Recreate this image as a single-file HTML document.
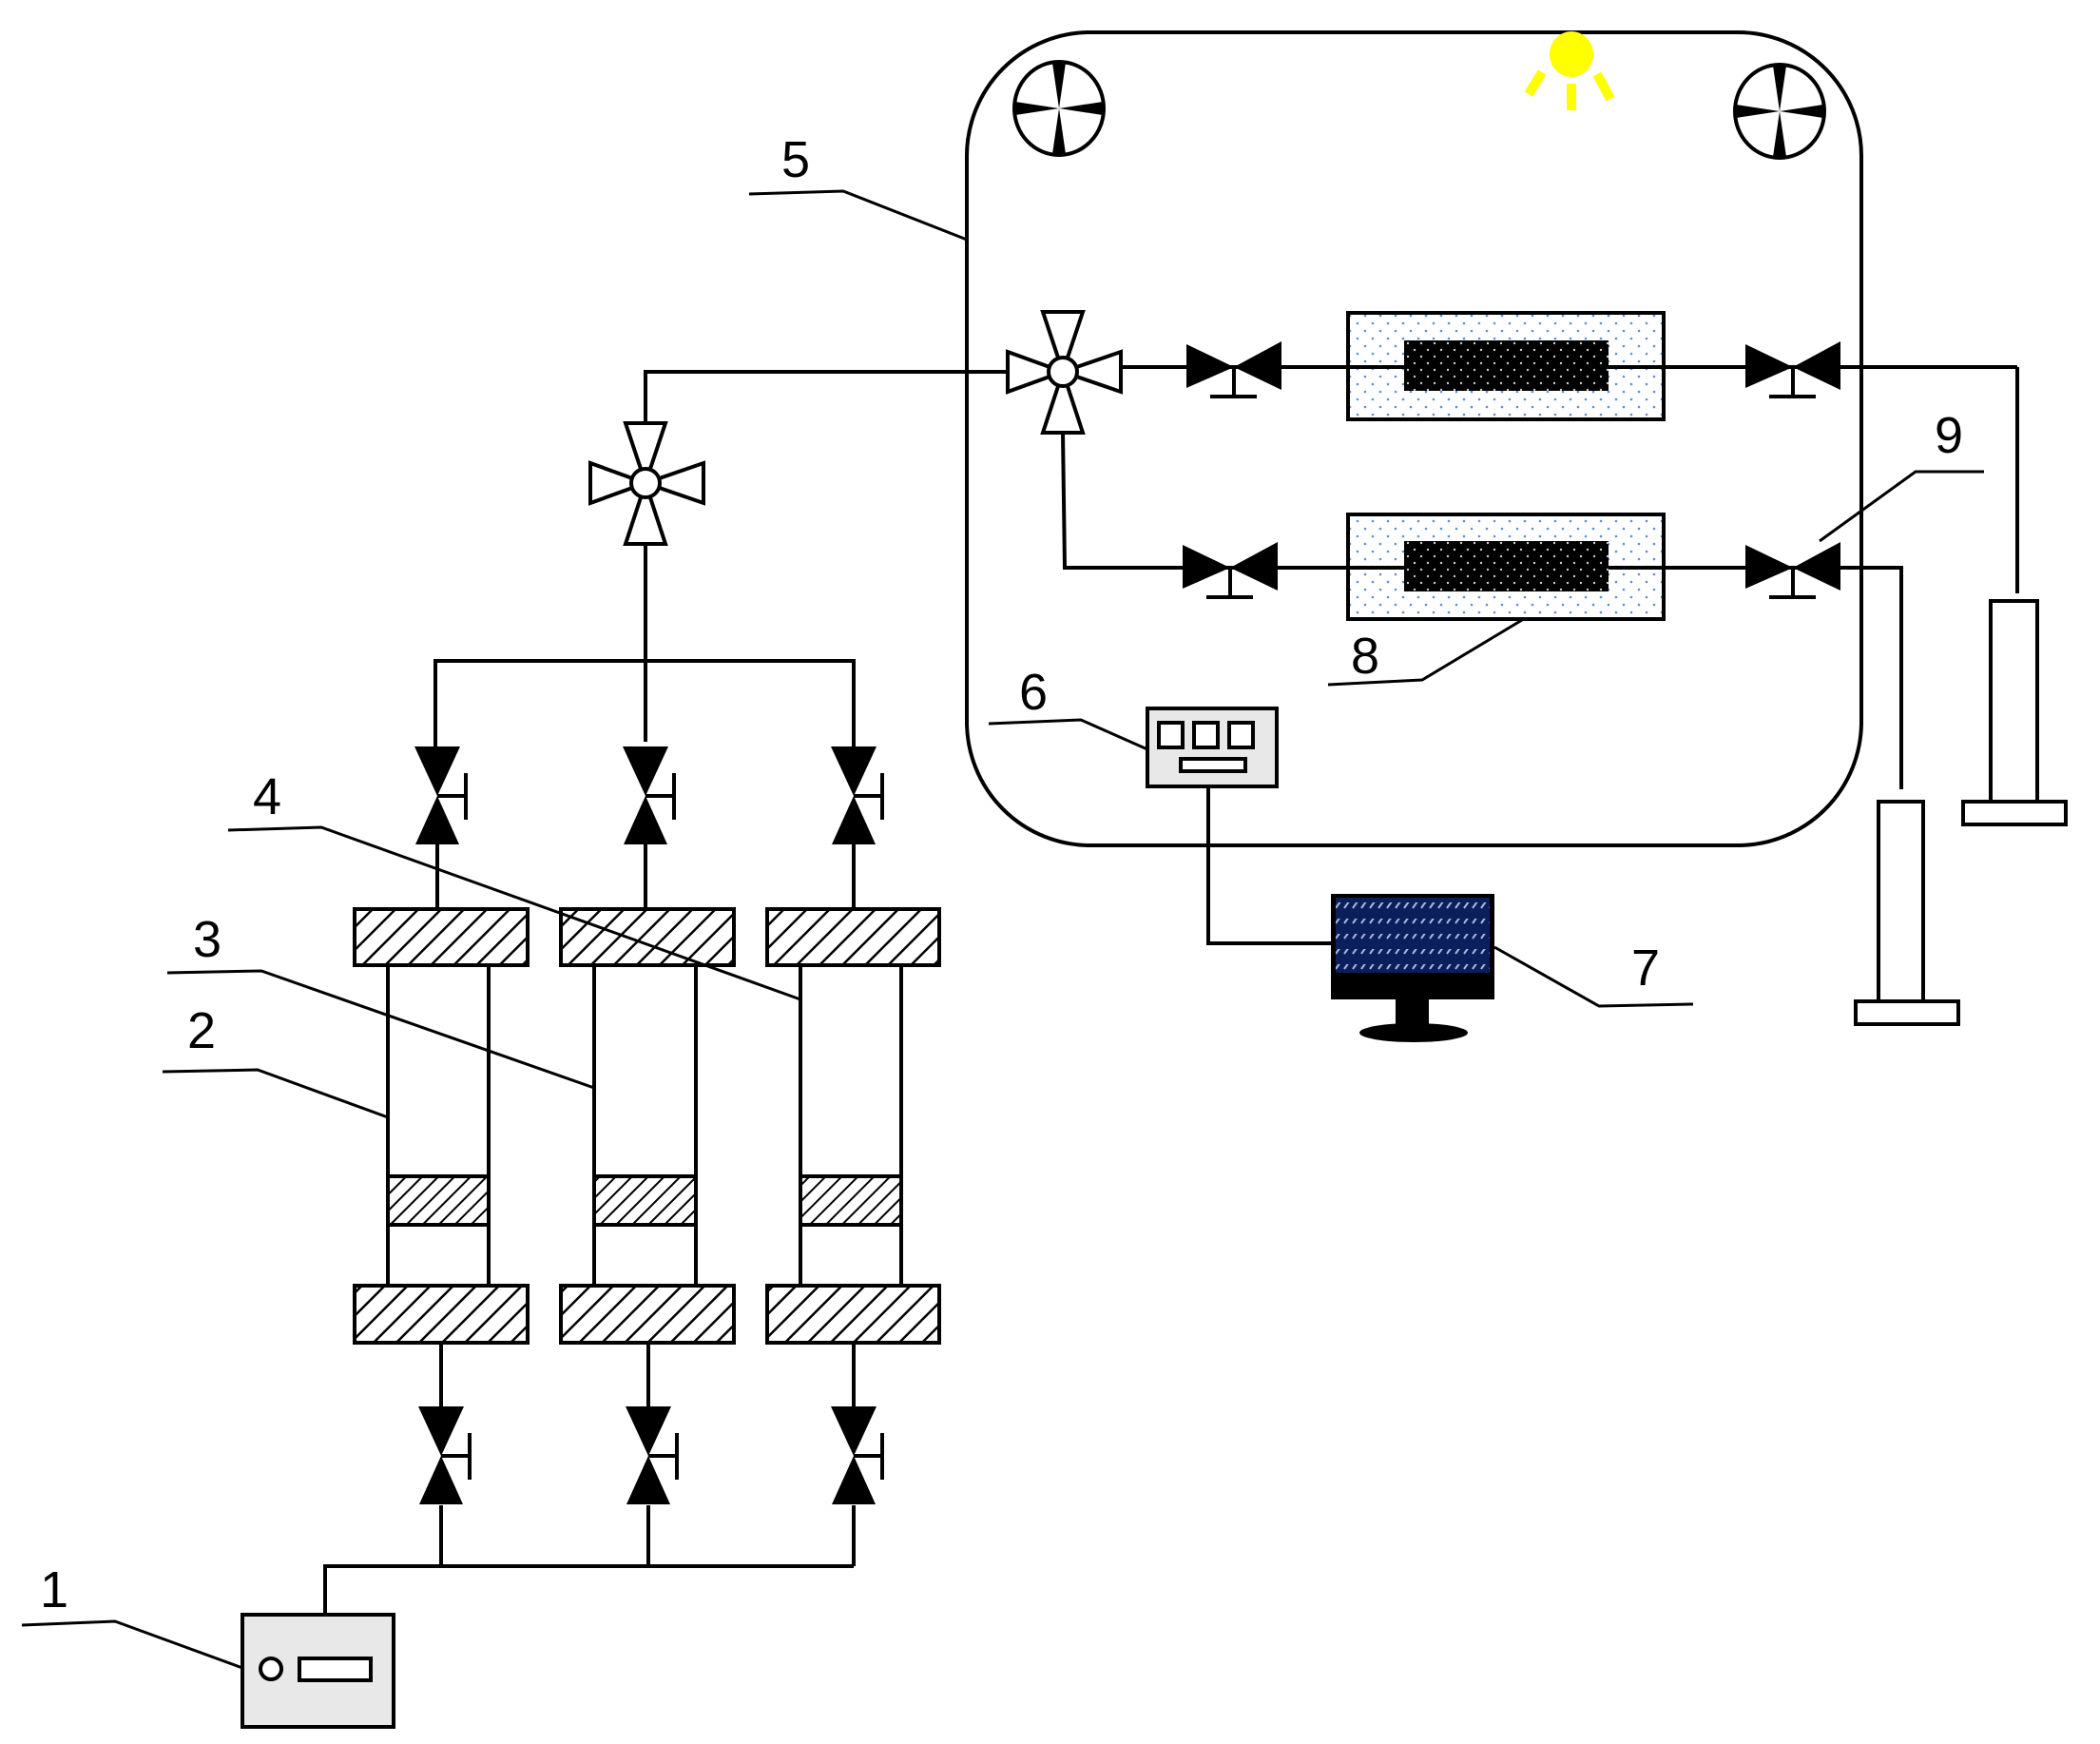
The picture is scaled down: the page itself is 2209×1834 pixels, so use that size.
<!DOCTYPE html>
<html><head><meta charset="utf-8"><style>
html,body{margin:0;padding:0;background:#fff}
svg{display:block}
text{font-family:"Liberation Sans",sans-serif;font-size:54px;fill:#000}
</style></head><body>
<svg width="2209" height="1834" viewBox="0 0 2209 1834" xmlns="http://www.w3.org/2000/svg">
<defs>
<pattern id="hatch" width="17" height="17" patternUnits="userSpaceOnUse" patternTransform="rotate(45)">
<rect width="17" height="17" fill="#fff"/><line x1="0" y1="0" x2="0" y2="17" stroke="#000" stroke-width="5"/></pattern>
<pattern id="hatch2" width="12" height="12" patternUnits="userSpaceOnUse" patternTransform="rotate(45)">
<rect width="12" height="12" fill="#fff"/><line x1="0" y1="0" x2="0" y2="12" stroke="#000" stroke-width="4"/></pattern>
<pattern id="dots" width="16" height="16" patternUnits="userSpaceOnUse">
<rect width="16" height="16" fill="#fff"/><circle cx="4" cy="4" r="1.3" fill="#5b8fd8"/><circle cx="12" cy="12" r="1.3" fill="#5b8fd8"/></pattern>
<pattern id="wdots" width="14" height="14" patternUnits="userSpaceOnUse">
<rect width="14" height="14" fill="#000"/><circle cx="4" cy="4" r="1.2" fill="#ccc"/><circle cx="11" cy="11" r="1.2" fill="#ccc"/></pattern>
<pattern id="scr" width="9" height="16" patternUnits="userSpaceOnUse">
<rect width="9" height="16" fill="#0a1f5c"/><line x1="1" y1="11" x2="6" y2="4" stroke="#a8b8d8" stroke-width="2"/></pattern>
<g id="hvalve"><polygon points="-50,-24 -50,22 0,0" fill="#000"/><polygon points="50,-27 50,24 0,0" fill="#000"/>
<line x1="0" y1="0" x2="0" y2="31" stroke="#000" stroke-width="4"/><line x1="-25" y1="31" x2="24" y2="31" stroke="#000" stroke-width="4"/></g>
<g id="vvalve"><polygon points="-24,-52 24,-52 0,0" fill="#000"/><polygon points="-23,51 23,51 0,0" fill="#000"/>
<line x1="0" y1="0" x2="30" y2="0" stroke="#000" stroke-width="4"/><line x1="30" y1="-24" x2="30" y2="25" stroke="#000" stroke-width="4"/></g>
<g id="cross" fill="#fff" stroke="#000" stroke-width="4" stroke-linejoin="miter">
<polygon points="0,0 -21,-63 21,-63"/><polygon points="0,0 -21,64 21,64"/>
<polygon points="0,0 -58,-21 -58,21"/><polygon points="0,0 61,-21 61,21"/>
<circle cx="0" cy="0" r="15"/></g>
<g id="fan"><ellipse cx="0" cy="0" rx="47" ry="49" fill="#fff" stroke="#000" stroke-width="4"/>
<polygon points="0,0 -7,-48 7,-48" fill="#000"/><polygon points="0,0 -7,48 7,48" fill="#000"/>
<polygon points="0,0 -46,-7 -46,7" fill="#000"/><polygon points="0,0 46,-7 46,7" fill="#000"/></g>
</defs>

<g stroke="#000" stroke-width="4" fill="none">
<rect x="1017" y="34" width="941" height="855" rx="130" ry="130"/>
<polyline points="679,445 679,391 1059,391"/>
<line x1="1179" y1="386" x2="2122" y2="386"/>
<polyline points="2122,386 2122,624"/>
<polyline points="1118,455 1120,597 2000,597 2000,830"/>
<polyline points="1271,827 1271,992 1400,992"/>
<line x1="679" y1="572" x2="679" y2="780"/>
<polyline points="458,785 458,695 898,695 898,785"/>
<line x1="460" y1="888" x2="460" y2="954"/><line x1="679" y1="888" x2="679" y2="954"/><line x1="898" y1="888" x2="898" y2="954"/>
<line x1="408" y1="1013" x2="408" y2="1352"/><line x1="514" y1="1013" x2="514" y2="1352"/>
<line x1="625" y1="1013" x2="625" y2="1352"/><line x1="732" y1="1013" x2="732" y2="1352"/>
<line x1="842" y1="1013" x2="842" y2="1352"/><line x1="948" y1="1013" x2="948" y2="1352"/>
<line x1="464" y1="1412" x2="464" y2="1480"/><line x1="682" y1="1412" x2="682" y2="1480"/><line x1="898" y1="1412" x2="898" y2="1480"/>
<polyline points="342,1698 342,1647 898,1647"/>
<line x1="464" y1="1583" x2="464" y2="1647"/><line x1="682" y1="1583" x2="682" y2="1647"/><line x1="898" y1="1583" x2="898" y2="1647"/>
</g>

<g stroke="#000" stroke-width="4" fill="url(#hatch)">
<rect x="373" y="956" width="182" height="59"/><rect x="590" y="956" width="182" height="59"/><rect x="807" y="956" width="181" height="59"/>
<rect x="373" y="1352" width="182" height="60"/><rect x="590" y="1352" width="182" height="60"/><rect x="807" y="1352" width="181" height="60"/>
</g>
<g stroke="#000" stroke-width="4" fill="url(#hatch2)">
<rect x="408" y="1237" width="106" height="51"/><rect x="625" y="1237" width="107" height="51"/><rect x="842" y="1237" width="106" height="51"/>
</g>

<use href="#vvalve" x="460" y="837"/><use href="#vvalve" x="679" y="837"/><use href="#vvalve" x="898" y="837"/>
<use href="#vvalve" x="464" y="1531"/><use href="#vvalve" x="682" y="1531"/><use href="#vvalve" x="898" y="1531"/>
<use href="#hvalve" x="1298" y="386"/><use href="#hvalve" x="1886" y="386"/>
<use href="#hvalve" x="1294" y="597"/><use href="#hvalve" x="1886" y="597"/>
<use href="#cross" x="679" y="508"/><use href="#cross" x="1118" y="391"/>

<rect x="1418" y="329" width="332" height="112" fill="url(#dots)" stroke="#000" stroke-width="4"/>
<rect x="1477" y="358" width="215" height="53" fill="url(#wdots)"/>
<line x1="1418" y1="386" x2="1477" y2="386" stroke="#000" stroke-width="4"/><line x1="1692" y1="386" x2="1750" y2="386" stroke="#000" stroke-width="4"/>
<rect x="1418" y="541" width="332" height="110" fill="url(#dots)" stroke="#000" stroke-width="4"/>
<rect x="1477" y="569" width="215" height="53" fill="url(#wdots)"/>
<line x1="1418" y1="597" x2="1477" y2="597" stroke="#000" stroke-width="4"/><line x1="1692" y1="597" x2="1750" y2="597" stroke="#000" stroke-width="4"/>

<use href="#fan" x="1114" y="114"/><use href="#fan" x="1872" y="117"/>
<ellipse cx="1653" cy="57" rx="23" ry="24" fill="#ffff00"/>
<g stroke="#ffff00" stroke-width="10"><line x1="1622" y1="76" x2="1608" y2="99"/><line x1="1653" y1="88" x2="1653" y2="116"/><line x1="1680" y1="78" x2="1694" y2="104"/></g>

<g stroke="#000" stroke-width="4" fill="#fff">
<rect x="2094" y="632" width="49" height="211"/><rect x="2065" y="843" width="108" height="24"/>
<rect x="1976" y="843" width="47" height="210"/><rect x="1952" y="1053" width="108" height="24"/>
</g>

<g stroke="#000" stroke-width="4">
<rect x="1207" y="745" width="136" height="82" fill="#e8e8e8"/>
<rect x="1219" y="760" width="25" height="26" fill="#fff"/><rect x="1256" y="760" width="25" height="26" fill="#fff"/><rect x="1293" y="760" width="25" height="26" fill="#fff"/>
<rect x="1242" y="798" width="68" height="13" fill="#fff"/>
<rect x="255" y="1698" width="159" height="118" fill="#e8e8e8"/>
<ellipse cx="285" cy="1755" rx="11" ry="11" fill="#fff"/>
<rect x="315" y="1744" width="75" height="23" fill="#fff"/>
</g>

<rect x="1400" y="940" width="172" height="111" fill="#000"/>
<rect x="1405" y="944" width="162" height="79" fill="#0a1f5c"/>
<g fill="url(#scr)"><rect x="1405" y="949" width="162" height="9"/><rect x="1405" y="966" width="162" height="9"/><rect x="1405" y="982" width="162" height="9"/><rect x="1405" y="998" width="162" height="9"/><rect x="1405" y="1014" width="162" height="9"/></g>
<rect x="1468" y="1050" width="35" height="30" fill="#000"/>
<ellipse cx="1487" cy="1086" rx="57" ry="10" fill="#000"/>

<g stroke="#000" stroke-width="3" fill="none">
<polyline points="788,204 887,201 1017,252"/>
<polyline points="1040,761 1137,757 1207,788"/>
<polyline points="1572,996 1682,1058 1781,1056"/>
<polyline points="1397,720 1496,715 1601,652"/>
<polyline points="2087,496 2015,496 1914,569"/>
<polyline points="23,1709 121,1705 255,1754"/>
<polyline points="171,1127 271,1125 408,1175"/>
<polyline points="176,1023 275,1021 625,1144"/>
<polyline points="240,873 338,870 842,1051"/>
</g>
<g>
<text x="822" y="186">5</text>
<text x="1072" y="746">6</text>
<text x="1716" y="1036">7</text>
<text x="1421" y="708">8</text>
<text x="2035" y="476">9</text>
<text x="42" y="1690">1</text>
<text x="197" y="1102">2</text>
<text x="203" y="1006">3</text>
<text x="266" y="856">4</text>
</g>
</svg>
</body></html>
